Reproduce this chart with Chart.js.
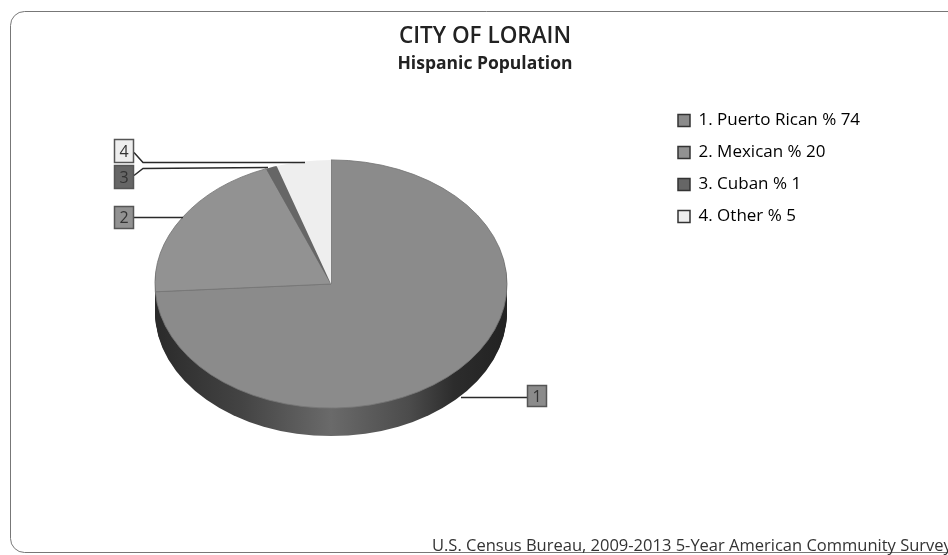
<!DOCTYPE html>
<html>
<head>
<meta charset="utf-8">
<title>City of Lorain</title>
<script src="https://cdn.jsdelivr.net/npm/chart.js@4/dist/chart.umd.min.js"></script>
<style>
  html, body { margin: 0; padding: 0; background: #fff; overflow: hidden; }
  #wrap { width: 948px; height: 555px; }
</style>
</head>
<body>
<div id="wrap"><canvas id="pie"></canvas></div>
<script>
const categories = ['Puerto Rican', 'Mexican', 'Cuban', 'Other'];
const percents = [74, 20, 1, 5];
const sliceColors = ['#8b8b8b', '#929292', '#666666', '#eeeeee'];
const titleText = 'CITY OF LORAIN';
const subtitleText = 'Hispanic Population';
const sourceText = 'U.S. Census Bureau, 2009-2013 5-Year American Community Survey';

const FONT = '"Open Sans", sans-serif';
const INK = '#333';

// where the flattened pie sits, and how much it is squashed
const pieX = 331, pieY = 284, pieRadius = 176, squash = 0.705, rimDepth = 28;

// numbered tags around the pie: box is x, y, w, h
const callouts = [
  { n: 0, box: [527, 385, 20, 22], line: [[527, 397], [461, 397]] },
  { n: 1, box: [114, 206, 20, 23], line: [[134, 217], [183, 217]] },
  { n: 2, box: [114, 165, 20, 24], line: [[134, 175], [143, 168], [268, 167]] },
  { n: 3, box: [114, 139, 20, 24], line: [[134, 152], [143, 162], [305, 162]] }
];

// card outline behind the chart, open past the right edge
const cardPlugin = {
  id: 'card',
  beforeDraw(chart) {
    const ctx = chart.ctx;
    ctx.save();
    ctx.strokeStyle = '#777';
    ctx.lineWidth = 1;
    ctx.beginPath();
    ctx.roundRect(10.5, 11.5, 960, 541, 14);
    ctx.stroke();
    ctx.restore();
  }
};

// flatten the arcs into an ellipse and draw the dark rim underneath them
const flatPiePlugin = {
  id: 'flatPie',
  beforeDatasetsDraw(chart) {
    const ctx = chart.ctx;
    const a = chart.getDatasetMeta(0).data[0];
    const rim = ctx.createLinearGradient(pieX - pieRadius, 0, pieX + pieRadius, 0);
    rim.addColorStop(0, '#2a2a2a');
    rim.addColorStop(0.25, '#444');
    rim.addColorStop(0.5, '#6a6a6a');
    rim.addColorStop(0.72, '#4c4c4c');
    rim.addColorStop(0.85, '#2c2c2c');
    rim.addColorStop(1, '#222');

    ctx.save();
    ctx.fillStyle = rim;
    for (let dy = rimDepth; dy > 0; dy--) {
      ctx.beginPath();
      ctx.ellipse(pieX, pieY + dy, pieRadius, pieRadius * squash, 0, 0, Math.PI * 2);
      ctx.fill();
    }
    ctx.restore();

    ctx.save();
    ctx.translate(pieX, pieY);
    ctx.scale(1, squash);
    ctx.translate(-a.x, -a.y);
  },
  afterDatasetsDraw(chart) {
    chart.ctx.restore();
  }
};

// legend goes to a fixed column on the right
const legendSpotPlugin = {
  id: 'legendSpot',
  afterLayout(chart) {
    const lg = chart.legend;
    lg.left = 663;
    lg.right = 663 + lg.width;
    lg.top = 97;
    lg.bottom = 97 + lg.height;
  }
};

// numbered tags, leader lines and the source note
const notesPlugin = {
  id: 'notes',
  afterDraw(chart) {
    const ctx = chart.ctx;
    ctx.save();
    callouts.forEach(c => {
      ctx.strokeStyle = '#2a2a2a';
      ctx.lineWidth = 1.5;
      ctx.beginPath();
      c.line.forEach((p, i) => i ? ctx.lineTo(p[0], p[1] + 0.5) : ctx.moveTo(p[0], p[1] + 0.5));
      ctx.stroke();

      const [x, y, w, h] = c.box;
      ctx.fillStyle = sliceColors[c.n];
      ctx.strokeStyle = '#555';
      ctx.lineWidth = 1.5;
      ctx.fillRect(x, y, w, h);
      ctx.strokeRect(x + 0.5, y + 0.5, w - 1, h - 1);
      ctx.fillStyle = INK;
      ctx.font = '16px ' + FONT;
      ctx.textAlign = 'center';
      ctx.textBaseline = 'middle';
      ctx.fillText(String(c.n + 1), x + w / 2, y + h / 2 + 1);
    });
    ctx.fillStyle = INK;
    ctx.font = '16.5px ' + FONT;
    ctx.textAlign = 'left';
    ctx.textBaseline = 'alphabetic';
    ctx.fillText(sourceText, 432, 551);
    ctx.restore();
  }
};

new Chart(document.getElementById('pie'), {
  type: 'pie',
  data: {
    labels: categories,
    datasets: [{
      data: percents,
      backgroundColor: sliceColors,
      borderColor: '#777',
      borderWidth: [1, 1, 0, 0],
      radius: pieRadius
    }]
  },
  options: {
    responsive: true,
    maintainAspectRatio: false,
    animation: false,
    layout: { padding: { left: 22 } },
    plugins: {
      tooltip: { enabled: false },
      title: {
        display: true,
        text: titleText,
        color: '#222',
        font: { family: FONT, size: 22.5, weight: '600' },
        padding: { top: 23, bottom: 2 }
      },
      subtitle: {
        display: true,
        text: subtitleText,
        color: '#222',
        font: { family: FONT, size: 17.5, weight: '700' },
        padding: { top: 2, bottom: 4 }
      },
      legend: {
        position: 'right',
        align: 'start',
        labels: {
          color: INK,
          boxWidth: 12,
          boxHeight: 12,
          padding: 15,
          font: { family: FONT, size: 17 },
          generateLabels(chart) {
            return categories.map((name, i) => ({
              text: (i + 1) + '. ' + name + ' % ' + percents[i],
              fillStyle: sliceColors[i],
              strokeStyle: '#333',
              lineWidth: 1.5,
              index: i
            }));
          }
        }
      }
    }
  },
  plugins: [cardPlugin, flatPiePlugin, legendSpotPlugin, notesPlugin]
});
</script>
</body>
</html>
